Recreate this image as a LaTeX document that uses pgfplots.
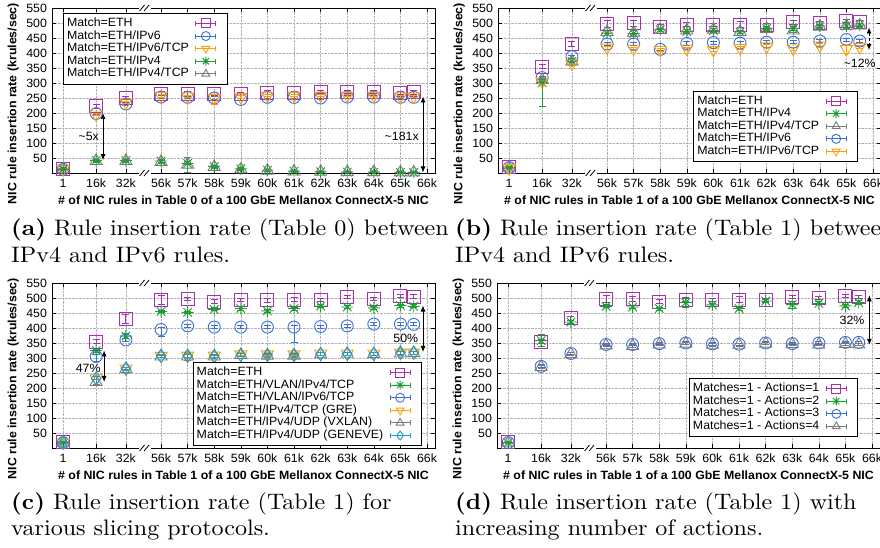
\documentclass[border=0pt]{standalone}
\usepackage{fontspec}
\setmainfont{Liberation Sans}[FakeStretch=1.03]
\newfontfamily\capfont{lmroman10-regular.otf}[BoldFont=lmroman10-bold.otf, FakeStretch=1.075]
\usepackage{pgfplots}
\usepackage{pgfplotstable}
\pgfplotsset{compat=1.18}
\usetikzlibrary{arrows.meta}

\definecolor{cpur}{HTML}{A62FB2}
\definecolor{cgrn}{HTML}{1E9E32}
\definecolor{cblu}{HTML}{3A6EE0}
\definecolor{cora}{HTML}{FFA000}
\definecolor{cgry}{HTML}{7A7A7A}
\definecolor{ccya}{HTML}{15A0D0}

% gnuplot-like "*" point: plus and cross
\pgfdeclareplotmark{gpstar}{%
  \pgfpathmoveto{\pgfqpoint{-\pgfplotmarksize}{0pt}}\pgfpathlineto{\pgfqpoint{\pgfplotmarksize}{0pt}}%
  \pgfpathmoveto{\pgfqpoint{0pt}{-\pgfplotmarksize}}\pgfpathlineto{\pgfqpoint{0pt}{\pgfplotmarksize}}%
  \pgfpathmoveto{\pgfqpoint{-.707\pgfplotmarksize}{-.707\pgfplotmarksize}}\pgfpathlineto{\pgfqpoint{.707\pgfplotmarksize}{.707\pgfplotmarksize}}%
  \pgfpathmoveto{\pgfqpoint{-.707\pgfplotmarksize}{.707\pgfplotmarksize}}\pgfpathlineto{\pgfqpoint{.707\pgfplotmarksize}{-.707\pgfplotmarksize}}%
  \pgfusepathqstroke}

\newcommand\gpfont{\fontsize{12}{12.4}\selectfont}

% x positions: 1, 16k, 32k, then 56k..65k, 65.5k
\pgfplotstableread{
x     eth e1 v6  e2 v6t e3 v4 e4 v4t e5
-3.68 15  3  12  3  12  3  12 3  12  3
-2.44 222 6  198 4  195 4  42 4  40  4
-1.32 250 6  230 4  235 4  42 4  40  4
0     265 6  253 4  257 4  40 4  37  4
1     265 6  252 4  255 4  32 5  28  25
2     264 6  250 4  250 20 22 4  20  4
3     263 6  245 4  253 4  14 3  12  3
4     268 6  252 4  258 4  9  3  8   3
5     267 6  252 4  258 4  6  2  5   2
6     270 6  250 4  258 4  4  2  4   2
7     270 6  253 4  258 4  3  2  3   2
8     270 6  253 4  258 4  3  2  3   2
9     267 6  252 4  255 4  2  2  2   2
9.5   269 6  252 4  255 4  2  2  2   2
}\tabA

\pgfplotstableread{
x     eth e1 v4  ep em v4t e3 v6  e4 v6t e5
-3.68 20  3  18  3  3  18  3  18  3  16  3
-2.44 355 8  301 18 78 310 5  318 5  305 5
-1.32 430 8  372 5  5  372 5  388 5  365 5
0     497 12 466 8  8  470 6  430 5  418 5
1     499 10 465 10 10 468 6  430 5  415 5
2     488 6  478 5  5  478 5  412 4  410 4
3     495 8  472 6  6  475 5  432 6  415 5
4     493 6  475 6  6  478 5  435 5  410 6
5     495 10 470 6  6  470 5  433 5  417 5
6     492 5  482 5  5  480 5  436 5  422 5
7     502 6  482 8  8  475 8  436 5  415 5
8     499 6  490 6  6  488 6  440 6  425 6
9     507 6  490 8  8  490 8  445 5  413 14
9.5   505 5  493 6  6  492 6  440 6  420 6
}\tabB

\pgfplotstableread{
x     eth e1 v4  e2 v6  ep em gre e4 vx  e5 gen e6
-3.68 20  3  18  3  18  3  3  18  3  18  3  18  3
-2.44 355 6  325 5  305 8  15 232 5  220 8  232 5
-1.32 430 14 373 8  360 5  5  265 4  263 4  265 4
0     495 15 455 4  395 8  22 307 4  305 4  307 4
1     497 6  452 4  407 5  5  308 8  305 12 307 6
2     488 6  462 5  403 5  5  308 5  305 5  306 5
3     493 6  465 6  403 5  5  312 5  310 5  310 5
4     492 6  457 5  403 5  5  312 5  308 5  310 5
5     495 8  465 5  403 5  50 312 5  308 5  310 5
6     493 5  473 5  405 5  5  315 5  312 5  313 5
7     502 5  470 5  407 5  5  315 5  314 5  314 5
8     497 5  467 5  413 6  6  315 5  313 5  313 5
9     507 6  475 5  413 5  5  318 6  315 6  318 5
9.5   505 6  472 5  412 5  5  318 5  316 5  318 5
}\tabC

\pgfplotstableread{
x     a1  e1 a2  e2 a3  e3 a4  e4
-3.68 20  3  18  3  18  3  18  3
-2.44 355 6  358 20 272 5  270 5
-1.32 432 6  420 6  315 4  313 4
0     497 12 472 5  345 4  342 4
1     498 8  470 5  345 4  340 4
2     488 6  465 5  348 4  345 4
3     495 6  485 15 350 4  348 4
4     493 6  477 5  347 4  344 4
5     495 10 465 5  346 4  344 4
6     492 5  490 5  350 4  348 4
7     503 5  478 12 348 4  346 4
8     500 6  482 5  350 4  345 4
9     507 6  474 5  352 4  347 4
9.5   505 5  485 6  352 4  345 4
}\tabD

\tikzset{dbl/.style={{Latex[length=6pt,width=5pt]}-{Latex[length=6pt,width=5pt]}, line width=0.8pt}}

\pgfplotsset{
  gp/.style={
    anchor=south west, scale only axis, width=383pt, height=165pt,
    xmin=-4.1, xmax=10.3, ymin=0, ymax=550,
    xtick={-3.68,-2.44,-1.32,0,1,2,3,4,5,6,7,8,9,10},
    xticklabels={1,16k,32k,56k,57k,58k,59k,60k,61k,62k,63k,64k,65k,66k},
    ytick={50,100,...,550},
    tick align=inside, tick pos=both, major tick length=4pt,
    grid=major, grid style={densely dotted, black!30, line width=0.5pt},
    axis line style={line width=0.8pt},
    every tick/.style={black, line width=0.6pt},
    tick label style={font=\gpfont},
    /pgf/number format/assume math mode=true,
    yticklabel style={xshift=-1.5pt},
    xticklabel style={yshift=-2.5pt},
    ylabel={NIC rule insertion rate (krules/sec)},
    every axis y label/.style={at={(axis description cs:-0.093,0.42)}, rotate=90, anchor=base, font=\bfseries\gpfont},
    every axis x label/.style={at={(axis description cs:0.5,-0.165)}, anchor=center, font=\bfseries\gpfont},
    clip=false,
    legend cell align=left, legend plot pos=right,
    legend style={font=\gpfont, draw=black, line width=0.8pt, inner xsep=3pt, inner ysep=4pt, row sep=0.4pt,
      nodes={inner sep=0.5pt, text height=8.6pt, text depth=2.6pt}},
  },
  every axis plot post/.append style={only marks, line width=0.9pt,
    legend image code/.code={%
      \path (0pt,0pt) (34pt,0pt);
      \draw[##1, mark=none] (6pt,0pt) -- (26pt,0pt) (6pt,-2.5pt) -- (6pt,2.5pt) (26pt,-2.5pt) -- (26pt,2.5pt);
      \draw[##1, overlay, mark size=4.5pt] plot coordinates {(16pt,0pt)};}},
  eb/.style={error bars/.cd, y dir=both, y explicit, error bar style={line width=0.9pt},
    error mark options={rotate=90, mark size=3.5pt, line width=0.9pt}},
  sETH/.style={cpur, mark=square, mark size=6.5pt},
  sV6/.style={cblu, mark=o, mark size=6pt},
  sV6T/.style={cora, mark=triangle, mark size=7pt, mark options={rotate=180}},
  sV4/.style={cgrn, mark=gpstar, mark size=6pt},
  sV4T/.style={cgry, mark=triangle, mark size=7pt},
  sGEN/.style={ccya, mark=diamond, mark size=6.5pt},
}

% axis break mark
\newcommand\brk[1]{%
  \begin{scope}[shift={(axis cs:-0.6,#1)}]
    \fill[white] (-6pt,-2.5pt) rectangle (6pt,2.5pt);
    \draw[line width=0.8pt] (-5.5pt,-3pt) -- (-0.5pt,3pt) (-1pt,-3pt) -- (4pt,3pt);
  \end{scope}}

\begin{document}
\begin{tikzpicture}
\useasboundingbox (0,0) rectangle (880pt,548pt);
\clip (0,0) rectangle (880pt,548pt);

% (a)
\begin{axis}[gp, at={(52pt,375pt)},
  xlabel={\# of NIC rules in Table 0 of a 100 GbE Mellanox ConnectX-5 NIC},
  legend style={at={(axis description cs:0.029,0.97)}, anchor=north west}]
\addplot[sETH, eb] table[x=x, y=eth, y error=e1] {\tabA}; \addlegendentry{Match=ETH}
\addplot[sV6, eb] table[x=x, y=v6, y error=e2] {\tabA}; \addlegendentry{Match=ETH/IPv6}
\addplot[sV6T, eb] table[x=x, y=v6t, y error=e3] {\tabA}; \addlegendentry{Match=ETH/IPv6/TCP}
\addplot[sV4, eb] table[x=x, y=v4, y error=e4] {\tabA}; \addlegendentry{Match=ETH/IPv4}
\addplot[sV4T, eb] table[x=x, y=v4t, y error=e5] {\tabA}; \addlegendentry{Match=ETH/IPv4/TCP}
\draw[dbl] (axis cs:-2.18,200) -- (axis cs:-2.18,43);
\node[font=\gpfont] at (axis cs:-2.72,123) {\textasciitilde5x};
\draw[dbl] (axis cs:9.85,255) -- (axis cs:9.85,2);
\node[font=\gpfont] at (axis cs:9.05,123) {\textasciitilde181x};
\brk{0}\brk{550}
\end{axis}

% (b)
\begin{axis}[gp, at={(498pt,375pt)},
  xlabel={\# of NIC rules in Table 1 of a 100 GbE Mellanox ConnectX-5 NIC},
  legend style={at={(axis description cs:0.94,0.067)}, anchor=south east}]
\addplot[sETH, eb] table[x=x, y=eth, y error=e1] {\tabB}; \addlegendentry{Match=ETH}
\addplot[sV4, eb] table[x=x, y=v4, y error plus=ep, y error minus=em] {\tabB}; \addlegendentry{Match=ETH/IPv4}
\addplot[sV4T, eb] table[x=x, y=v4t, y error=e3] {\tabB}; \addlegendentry{Match=ETH/IPv4/TCP}
\addplot[sV6, eb] table[x=x, y=v6, y error=e4] {\tabB}; \addlegendentry{Match=ETH/IPv6}
\addplot[sV6T, eb] table[x=x, y=v6t, y error=e5] {\tabB}; \addlegendentry{Match=ETH/IPv6/TCP}
\draw[dbl, densely dashed] (axis cs:9.85,485) -- (axis cs:9.85,410);
\node[font=\gpfont] at (axis cs:9.5,367) {\textasciitilde12\%};
\brk{0}\brk{550}
\end{axis}

% (c)
\begin{axis}[gp, at={(52pt,100pt)},
  xlabel={\# of NIC rules in Table 1 of a 100 GbE Mellanox ConnectX-5 NIC},
  legend style={at={(axis description cs:0.966,0.012)}, anchor=south east}]
\addplot[sETH, eb] table[x=x, y=eth, y error=e1] {\tabC}; \addlegendentry{Match=ETH}
\addplot[sV4, eb] table[x=x, y=v4, y error=e2] {\tabC}; \addlegendentry{Match=ETH/VLAN/IPv4/TCP}
\addplot[sV6, eb] table[x=x, y=v6, y error plus=ep, y error minus=em] {\tabC}; \addlegendentry{Match=ETH/VLAN/IPv6/TCP}
\addplot[sV6T, eb] table[x=x, y=gre, y error=e4] {\tabC}; \addlegendentry{Match=ETH/IPv4/TCP (GRE)}
\addplot[sV4T, eb] table[x=x, y=vx, y error=e5] {\tabC}; \addlegendentry{Match=ETH/IPv4/UDP (VXLAN)}
\addplot[sGEN, eb] table[x=x, y=gen, y error=e6] {\tabC}; \addlegendentry{Match=ETH/IPv4/UDP (GENEVE)}
\draw[dbl] (axis cs:-2.14,325) -- (axis cs:-2.14,220);
\node[font=\gpfont] at (axis cs:-2.74,267) {47\%};
\draw[dbl] (axis cs:9.85,475) -- (axis cs:9.85,320);
\node[font=\gpfont] at (axis cs:9.2,367) {50\%};
\brk{0}\brk{550}
\end{axis}

% (d)
\begin{axis}[gp, at={(497pt,100pt)},
  xlabel={\# of NIC rules in Table 1 of a 100 GbE Mellanox ConnectX-5 NIC},
  legend style={at={(axis description cs:0.943,0.067)}, anchor=south east}]
\addplot[sETH, eb] table[x=x, y=a1, y error=e1] {\tabD}; \addlegendentry{Matches=1 - Actions=1}
\addplot[sV4, eb] table[x=x, y=a2, y error=e2] {\tabD}; \addlegendentry{Matches=1 - Actions=2}
\addplot[sV6, eb] table[x=x, y=a3, y error=e3] {\tabD}; \addlegendentry{Matches=1 - Actions=3}
\addplot[sV4T, eb] table[x=x, y=a4, y error=e4] {\tabD}; \addlegendentry{Matches=1 - Actions=4}
\draw[dbl] (axis cs:9.9,509) -- (axis cs:9.9,344);
\node[font=\gpfont] at (axis cs:9.25,425) {32\%};
\brk{0}\brk{550}
\end{axis}

% sub-captions
\begin{scope}[every node/.style={anchor=base west, inner sep=0pt, font=\capfont\fontsize{22.4}{27}\selectfont}]
\node at (11pt,312pt) {\textbf{(a)} Rule insertion rate (Table 0) between};
\node at (11pt,285pt) {IPv4 and IPv6 rules.};
\node at (455pt,312pt) {\textbf{(b)} Rule insertion rate (Table 1) between};
\node at (455pt,285pt) {IPv4 and IPv6 rules.};
\node at (11pt,38pt) {\textbf{(c)} Rule insertion rate (Table 1) for};
\node at (11pt,12pt) {various slicing protocols.};
\node at (455pt,38pt) {\textbf{(d)} Rule insertion rate (Table 1) with};
\node at (455pt,12pt) {increasing number of actions.};
\end{scope}
\end{tikzpicture}
\end{document}
